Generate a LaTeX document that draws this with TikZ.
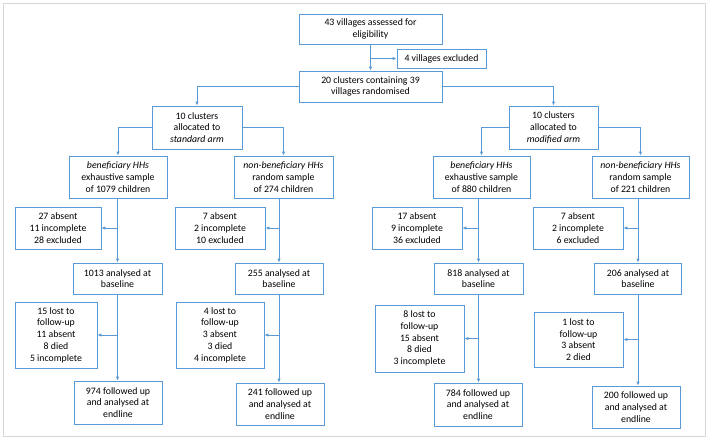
\documentclass[tikz,border=0pt]{standalone}
\usepackage{fontspec}
\setmainfont{Carlito}
\usetikzlibrary{arrows.meta}

\begin{document}
\begin{tikzpicture}[x=1pt,y=-1pt,
  box/.style={draw=boxBlue,line width=0.8pt,fill=white,align=center,inner sep=0pt,font=\fontsize{9.8}{11.7}\selectfont},
  arr/.style={draw=boxBlue,line width=0.8pt,-{Latex[length=4pt,width=3.5pt]}}]
\definecolor{boxBlue}{RGB}{91,155,213}
\definecolor{frameGrey}{RGB}{215,215,215}
\useasboundingbox (0,0) rectangle (709,440);
\draw[frameGrey,line width=0.8pt] (3,3) rectangle (705,436);
\node[box,minimum width=143pt,minimum height=30pt] (assessed) at (370.5,29) {43 villages assessed for\\eligibility};
\node[box,minimum width=89pt,minimum height=19pt] (excluded) at (441.5,58.5) {4 villages excluded};
\node[box,minimum width=143pt,minimum height=31pt] (randomised) at (370.5,86.5) {20 clusters containing 39\\villages randomised};
\node[box,minimum width=90pt,minimum height=43pt] (standard) at (197,127.5) {10 clusters\\allocated to\\\textit{standard arm}};
\node[box,minimum width=89pt,minimum height=43pt] (modified) at (553.5,127.5) {10 clusters\\allocated to\\\textit{modified arm}};
\node[box,minimum width=98pt,minimum height=42pt] (benA) at (118,177) {\textit{beneficiary HHs}\\exhaustive sample\\of 1079 children};
\node[box,minimum width=99pt,minimum height=42pt] (nonA) at (283.5,177) {\textit{non-beneficiary HHs}\\random sample\\of 274 children};
\node[box,minimum width=86pt,minimum height=42pt] (exA) at (58,228) {27 absent\\11 incomplete\\28 excluded};
\node[box,minimum width=90pt,minimum height=42pt] (exB) at (220,228) {7 absent\\2 incomplete\\10 excluded};
\node[box,minimum width=89pt,minimum height=31pt] (baseA) at (117.5,278.5) {1013 analysed at\\baseline};
\node[box,minimum width=88pt,minimum height=31pt] (baseB) at (279,278.5) {255 analysed at\\baseline};
\node[box,minimum width=82pt,minimum height=66pt] (lostA) at (56,335) {15 lost to\\follow-up\\11 absent\\8 died\\5 incomplete};
\node[box,minimum width=88pt,minimum height=66pt] (lostB) at (220,335) {4 lost to\\follow-up\\3 absent\\3 died\\4 incomplete};
\node[box,minimum width=88pt,minimum height=43pt] (endA) at (118,402.5) {974 followed up\\and analysed at\\endline};
\node[box,minimum width=88pt,minimum height=42pt] (endB) at (280,404) {241 followed up\\and analysed at\\endline};
\node[box,minimum width=97pt,minimum height=42pt] (benC) at (481.5,177) {\textit{beneficiary HHs}\\exhaustive sample\\of 880 children};
\node[box,minimum width=97pt,minimum height=42pt] (nonC) at (640.5,177) {\textit{non-beneficiary HHs}\\random sample\\of 221 children};
\node[box,minimum width=90pt,minimum height=42pt] (exC) at (417,228) {17 absent\\9 incomplete\\36 excluded};
\node[box,minimum width=90pt,minimum height=42pt] (exD) at (578,228) {7 absent\\2 incomplete\\6 excluded};
\node[box,minimum width=89pt,minimum height=31pt] (baseC) at (478.5,278.5) {818 analysed at\\baseline};
\node[box,minimum width=87pt,minimum height=31pt] (baseD) at (638,278.5) {206 analysed at\\baseline};
\node[box,minimum width=89pt,minimum height=67pt] (lostC) at (419.5,338.5) {8 lost to\\follow-up\\15 absent\\8 died\\3 incomplete};
\node[box,minimum width=89pt,minimum height=55pt] (lostD) at (578.5,339.5) {1 lost to\\follow-up\\3 absent\\2 died};
\node[box,minimum width=88pt,minimum height=43pt] (endC) at (478,404.5) {784 followed up\\and analysed at\\endline};
\node[box,minimum width=88pt,minimum height=42pt] (endD) at (636,407) {200 followed up\\and analysed at\\endline};
\draw[arr] (assessed.south) -- (randomised.north);
\draw[arr] (assessed.south |- excluded.west) -- (excluded.west);
\draw[arr] (randomised.west) -| (standard.north);
\draw[arr] (randomised.east) -| (modified.north);
\draw[arr] (standard.west) -| (benA.north);
\draw[arr] (standard.east) -| (nonA.north);
\draw[arr] (modified.west) -| (benC.north);
\draw[arr] (modified.east) -| (nonC.north);
\draw[arr] (baseA.north |- benA.south) -- (baseA.north);
\draw[arr] (baseA.north |- exA.east) -- (exA.east);
\draw[arr] (baseA.south) -- (baseA.south |- endA.north);
\draw[arr] (baseA.south |- lostA.east) -- (lostA.east);
\draw[arr] (baseB.north |- nonA.south) -- (baseB.north);
\draw[arr] (baseB.north |- exB.east) -- (exB.east);
\draw[arr] (baseB.south) -- (baseB.south |- endB.north);
\draw[arr] (baseB.south |- lostB.east) -- (lostB.east);
\draw[arr] (baseC.north |- benC.south) -- (baseC.north);
\draw[arr] (baseC.north |- exC.east) -- (exC.east);
\draw[arr] (baseC.south) -- (baseC.south |- endC.north);
\draw[arr] (baseC.south |- lostC.east) -- (lostC.east);
\draw[arr] (baseD.north |- nonC.south) -- (baseD.north);
\draw[arr] (baseD.north |- exD.east) -- (exD.east);
\draw[arr] (baseD.south) -- (baseD.south |- endD.north);
\draw[arr] (baseD.south |- lostD.east) -- (lostD.east);
\end{tikzpicture}
\end{document}
